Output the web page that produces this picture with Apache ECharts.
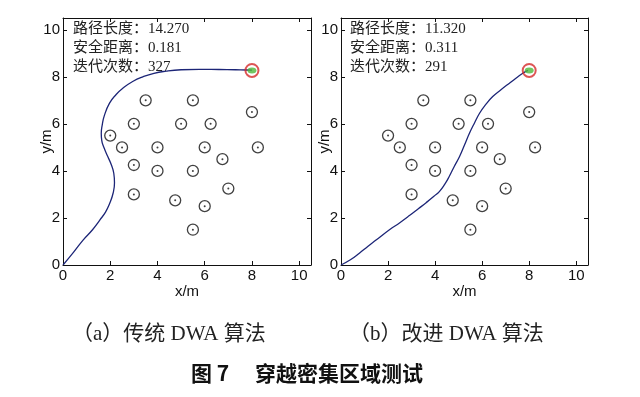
<!DOCTYPE html>
<html>
<head>
<meta charset="utf-8">
<script src="https://cdn.jsdelivr.net/npm/echarts@6/dist/echarts.min.js"></script>
<style>
  html, body { margin: 0; padding: 0; background: #fff; }
  #main { width: 640px; height: 397px; }
</style>
</head>
<body>
<div id="main"></div>
<script>
// 障碍物坐标 (两图相同)
var obstacles = [
    [3.5, 7], [5.5, 7], [8, 6.5], [3, 6], [5, 6], [6.25, 6], [2, 5.5],
    [2.5, 5], [4, 5], [6, 5], [8.25, 5], [6.75, 4.5], [3, 4.25], [4, 4],
    [5.5, 4], [7, 3.25], [3, 3], [4.75, 2.75], [6, 2.5], [5.5, 1.5]
];
var goal = [[8, 8.27]];

// 传统 DWA 路径
var pathA = [
    [0, 0], [0.45, 0.55], [0.85, 1.06], [1.25, 1.5], [1.55, 1.9], [1.8, 2.25],
    [1.97, 2.6], [2.12, 3.05], [2.18, 3.5], [2.15, 3.9], [2.05, 4.25], [1.9, 4.6],
    [1.75, 4.95], [1.64, 5.3], [1.62, 5.6], [1.66, 5.95], [1.75, 6.35], [1.97, 6.88],
    [2.25, 7.25], [2.54, 7.52], [2.95, 7.8], [3.38, 8.0], [3.85, 8.15], [4.37, 8.24],
    [5.0, 8.3], [5.77, 8.32], [6.6, 8.31], [7.3, 8.3], [7.75, 8.29], [8, 8.28]
];
// 改进 DWA 路径
var pathB = [
    [0, 0], [0.4, 0.22], [0.78, 0.5], [1.15, 0.8], [1.49, 1.06], [2.06, 1.5],
    [2.5, 1.8], [2.91, 2.1], [3.3, 2.4], [3.62, 2.65], [3.95, 2.92], [4.18, 3.12],
    [4.42, 3.45], [4.6, 3.76], [4.82, 4.2], [5.04, 4.61], [5.25, 5.1], [5.46, 5.6],
    [5.68, 6.05], [5.89, 6.45], [6.15, 6.82], [6.45, 7.16], [6.8, 7.45], [7.16, 7.73],
    [7.45, 7.95], [7.73, 8.15], [7.95, 8.27]
];
var infoA = ['路径长度：14.270', '安全距离：0.181', '迭代次数：327'];
var infoB = ['路径长度：11.320', '安全距离：0.311', '迭代次数：291'];
var captions = ['（a）传统 DWA 算法', '（b）改进 DWA 算法'];
var figTitle = '图 7　 穿越密集区域测试';

var myChart = echarts.init(document.getElementById('main'));

var tickFont = 'Liberation Sans, Arial, sans-serif';
var cjkFont = '"Liberation Serif", "Noto Sans CJK SC", serif';

function xAxisOf(g, pos, withLabel) {
    return {
        gridIndex: g, type: 'value', position: pos, min: 0, max: 10.5, interval: 2,
        name: withLabel ? 'x/m' : '', nameLocation: 'middle', nameGap: 19, nameMoveOverlap: false,
        nameTextStyle: { color: '#111', fontSize: 15, fontFamily: tickFont },
        axisLine: { show: true, onZero: false, lineStyle: { color: '#111', width: 1 } },
        axisTick: { show: true, inside: true, length: 4, lineStyle: { color: '#111' } },
        axisLabel: {
            show: withLabel, color: '#111', fontSize: 15, fontFamily: tickFont, margin: 3,
            formatter: function (v) { return v % 2 === 0 ? v : ''; }
        },
        splitLine: { show: false }
    };
}
function yAxisOf(g, pos, withLabel) {
    return {
        gridIndex: g, type: 'value', position: pos, min: 0, max: 10.5, interval: 2,
        name: withLabel ? 'y/m' : '', nameLocation: 'middle', nameGap: 9, nameRotate: 90,
        nameMoveOverlap: false,
        nameTextStyle: { color: '#111', fontSize: 15, fontFamily: tickFont },
        axisLine: { show: true, onZero: false, lineStyle: { color: '#111', width: 1 } },
        axisTick: { show: true, inside: true, length: 4, lineStyle: { color: '#111' } },
        axisLabel: {
            show: withLabel, color: '#111', fontSize: 15, fontFamily: tickFont, margin: 3,
            formatter: function (v) { return v % 2 === 0 ? v : ''; }
        },
        splitLine: { show: false }
    };
}

function seriesFor(g, path) {
    return [
        {
            type: 'scatter', xAxisIndex: g * 2, yAxisIndex: g * 2, data: obstacles,
            symbol: 'circle', symbolSize: 11, silent: true,
            itemStyle: { color: 'rgba(0,0,0,0)', borderColor: '#111', borderWidth: 1.3 }
        },
        {
            type: 'scatter', xAxisIndex: g * 2, yAxisIndex: g * 2, data: obstacles,
            symbol: 'circle', symbolSize: 2, silent: true,
            itemStyle: { color: '#111' }
        },
        {
            type: 'line', xAxisIndex: g * 2, yAxisIndex: g * 2, data: path,
            smooth: true, showSymbol: false, silent: true,
            lineStyle: { color: '#1c2577', width: 1.3 }
        },
        {
            type: 'scatter', xAxisIndex: g * 2, yAxisIndex: g * 2, data: goal,
            symbol: 'circle', symbolSize: 13, silent: true, z: 5,
            itemStyle: { color: 'rgba(0,0,0,0)', borderColor: '#d42a2a', borderWidth: 2 }
        },
        {
            type: 'scatter', xAxisIndex: g * 2, yAxisIndex: g * 2, data: goal,
            symbol: 'circle', symbolSize: [9, 6], silent: true, z: 6,
            itemStyle: { color: '#4fb83a' }
        }
    ];
}

function infoText(left, lines) {
    return lines.map(function (t, i) {
        return {
            type: 'text', left: left, top: 22 + i * 19,
            style: { text: t, fill: '#222', font: '15px ' + cjkFont }
        };
    });
}

var option = {
    backgroundColor: '#fff',
    animation: false,
    grid: [
        { left: 63, top: 18, width: 248, height: 247 },
        { left: 341, top: 18, width: 247, height: 247 }
    ],
    xAxis: [xAxisOf(0, 'bottom', true), xAxisOf(0, 'top', false), xAxisOf(1, 'bottom', true), xAxisOf(1, 'top', false)],
    yAxis: [yAxisOf(0, 'left', true), yAxisOf(0, 'right', false), yAxisOf(1, 'left', true), yAxisOf(1, 'right', false)],
    series: seriesFor(0, pathA).concat(seriesFor(1, pathB)),
    graphic: infoText(73, infoA).concat(infoText(350, infoB)).concat([
        {
            type: 'text', left: 72, top: 324,
            style: { text: captions[0], fill: '#222', font: '21px ' + cjkFont }
        },
        {
            type: 'text', left: 349, top: 324,
            style: { text: captions[1], fill: '#222', font: '21px ' + cjkFont }
        },
        {
            type: 'text', left: 191, top: 363,
            style: { text: figTitle, fill: '#111', font: 'bold 21px "Noto Sans CJK SC", sans-serif' }
        }
    ])
};

myChart.setOption(option);
</script>
</body>
</html>
